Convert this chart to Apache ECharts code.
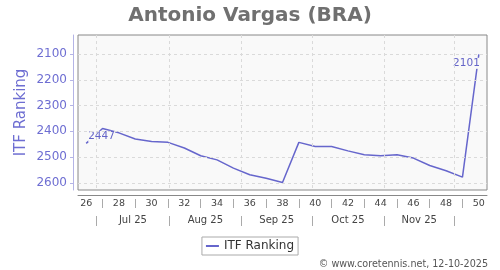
<!DOCTYPE html>
<html>
<head>
<meta charset="utf-8">
<script src="https://cdn.jsdelivr.net/npm/echarts@6/dist/echarts.min.js"></script>
<style>html,body{margin:0;padding:0;background:#fff}#c{width:500px;height:270px}</style>
</head>
<body>
<div id="c"></div>
<script>
const weeks = [26,27,28,29,30,31,32,33,34,35,36,37,38,39,40,41,42,43,44,45,46,47,48,49,50];
const ranks = [2447,2389,2406,2430,2440,2443,2465,2495,2511,2543,2569,2582,2599,2443,2459,2459,2476,2491,2495,2491,2504,2533,2553,2578,2101];
const yTicks = [2100,2200,2300,2400,2500,2600];
const weekTicks = [26,28,30,32,34,36,38,40,42,44,46,48,50];
const weekSeparators = [27,29,31,33,35,37,39,41,43,45,47,49];
const monthStarts = [26.64,31.07,35.5,39.79,44.21,48.5];
const monthLabels = ['Jul 25','Aug 25','Sep 25','Oct 25','Nov 25'];
const seriesName = 'ITF Ranking';
const titleText = 'Antonio Vargas (BRA)';
const footerText = '\u00a9 www.coretennis.net, 12-10-2025';

const FONT = 'DejaVu Sans';
const monthMids = monthLabels.map((_, i) => (monthStarts[i] + monthStarts[i + 1]) / 2);

const lineColor = '#6666cc';
const labelColor = '#6464c8';

const data = weeks.map((w, i) => {
  const item = { value: [w, ranks[i]] };
  if (i === 0) {
    item.label = { show: true, position: 'right', distance: 2, offset: [0, -7] };
  } else if (i === weeks.length - 1) {
    item.label = { show: true, position: 'left', distance: 0, offset: [1, 9] };
  }
  return item;
});

const chart = echarts.init(document.getElementById('c'), null, { renderer: 'canvas' });
const xBase = { type: 'value', min: 25.5, max: 50.5, position: 'bottom', splitLine: { show: false } };

chart.setOption({
  animation: false,
  textStyle: { fontFamily: FONT },
  title: {
    text: titleText, left: 'center', top: 1,
    textStyle: { fontFamily: FONT, fontSize: 20, fontWeight: 'bold', color: '#707070' }
  },
  grid: {
    left: 78, right: 13, top: 35, bottom: 80, show: true,
    backgroundColor: '#f9f9f9', borderColor: '#888', borderWidth: 1
  },
  legend: {
    data: [seriesName], left: 'center', top: 237,
    backgroundColor: '#fff', borderColor: '#aaa', borderWidth: 1, borderRadius: 0,
    padding: [3, 4, 3, 4], icon: 'rect', itemWidth: 13, itemHeight: 2, itemGap: 5,
    textStyle: { fontFamily: FONT, fontSize: 12, color: '#333' }
  },
  xAxis: [
    Object.assign({}, xBase, {
      offset: 5,
      axisLine: { show: true, lineStyle: { color: '#888', width: 1 } },
      axisTick: { show: false },
      axisLabel: { customValues: weekTicks, fontSize: 9.5, color: '#444', margin: 4, fontFamily: FONT }
    }),
    Object.assign({}, xBase, {
      offset: 9,
      axisLine: { show: false },
      axisTick: { show: true, customValues: weekSeparators, length: 9, lineStyle: { color: '#aaa' } },
      axisLabel: { show: false }
    }),
    Object.assign({}, xBase, {
      offset: 26,
      axisLine: { show: false },
      axisTick: { show: true, customValues: monthStarts, length: 10, lineStyle: { color: '#aaa' } },
      axisLabel: {
        customValues: monthMids, fontSize: 10, color: '#444', margin: -1, fontFamily: FONT,
        formatter: v => {
          let best = 0;
          monthMids.forEach((m, i) => { if (Math.abs(m - v) < Math.abs(monthMids[best] - v)) best = i; });
          return monthLabels[best];
        }
      }
    })
  ],
  yAxis: {
    type: 'value', inverse: true, min: 2026, max: 2628, offset: 5,
    name: seriesName, nameLocation: 'middle', nameGap: 44, nameMoveOverlap: false,
    nameTextStyle: { fontFamily: FONT, fontSize: 15, color: '#6e6ed2' },
    axisLine: { show: true, lineStyle: { color: '#b4b4e6', width: 1 } },
    axisTick: { show: true, customValues: yTicks, length: 3, lineStyle: { color: '#b4b4e6' } },
    axisLabel: {
      customValues: yTicks, fontSize: 12, color: '#6e6ed2', margin: 6, fontFamily: FONT,
      formatter: v => String(v)
    },
    splitLine: { show: false }
  },
  graphic: [{
    type: 'text', right: 12, top: 259,
    style: { text: footerText, font: '9.6px "DejaVu Sans"', fill: '#555' }
  }],
  series: [
    {
      name: 'grid', type: 'line', xAxisIndex: 0, yAxisIndex: 0, z: 1, silent: true,
      data: [], symbol: 'none',
      markLine: {
        silent: true, symbol: ['none', 'none'], animation: false,
        label: { show: false },
        lineStyle: { color: '#dadada', type: [3, 3], width: 1 },
        emphasis: { disabled: true },
        data: yTicks.map(v => ({ yAxis: v })).concat(monthStarts.map(v => ({ xAxis: v })))
      }
    },
    {
      name: seriesName, type: 'line', xAxisIndex: 0, yAxisIndex: 0, z: 3,
      data: data, symbol: 'circle', symbolSize: 0, showSymbol: true, showAllSymbol: true,
      color: lineColor,
      lineStyle: { color: lineColor, width: 1.5 },
      label: {
        show: false, fontSize: 10.5, color: labelColor, fontFamily: FONT,
        backgroundColor: '#f9f9f9', padding: [0, 0],
        formatter: p => String(p.value[1])
      },
      emphasis: { disabled: true }
    }
  ]
});
</script>
</body>
</html>
